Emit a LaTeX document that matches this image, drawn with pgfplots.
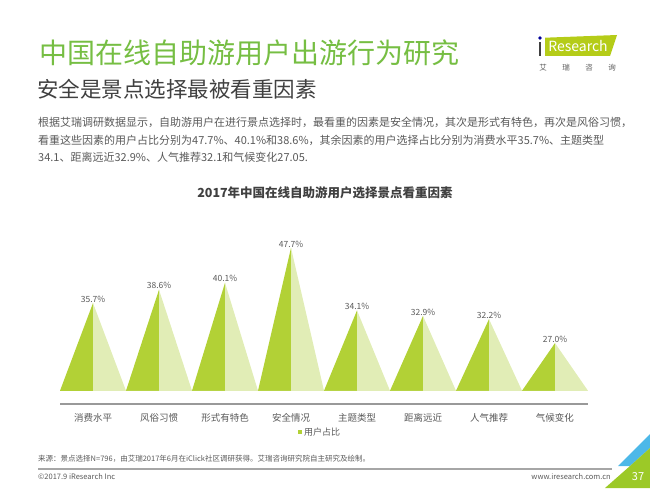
\documentclass[border=0pt]{standalone}
\usepackage{fontspec}
\setmainfont{Noto Sans CJK SC}
\usepackage{pgfplots}
\pgfplotsset{compat=1.18}
\definecolor{titlegreen}{HTML}{76BE43}
\definecolor{darkg}{HTML}{B2D136}
\definecolor{lightg}{HTML}{E1EDB6}
\definecolor{txtgray}{HTML}{595959}
\definecolor{subgray}{HTML}{404040}
\definecolor{linegray}{HTML}{A6A6A6}
\definecolor{axgray}{HTML}{999999}
\definecolor{logogreen}{HTML}{B5CC18}
\definecolor{cornerblue}{HTML}{4DB8E8}
\definecolor{cornergreen}{HTML}{9CC927}
\begin{document}
\begin{tikzpicture}
\path (0pt,0pt) rectangle (650pt,488pt);
% titles
\node[anchor=west, inner sep=0pt, text=titlegreen, font=\fontsize{28}{30}\selectfont] at (39pt,435pt) {中国在线自助游用户出游行为研究};
\node[anchor=west, inner sep=0pt, text=subgray, font=\fontsize{21.5}{24}\selectfont] at (37pt,399pt) {安全是景点选择最被看重因素};
\node[anchor=west, inner sep=0pt, text=txtgray, font=\fontsize{11}{13}\selectfont] at (38pt,366pt) {根据艾瑞调研数据显示，自助游用户在进行景点选择时，最看重的因素是安全情况，其次是形式有特色，再次是风俗习惯，};
\node[anchor=west, inner sep=0pt, text=txtgray, font=\fontsize{11}{13}\selectfont] at (38pt,348pt) {看重这些因素的用户占比分别为47.7\%、40.1\%和38.6\%，其余因素的用户选择占比分别为消费水平35.7\%、主题类型};
\node[anchor=west, inner sep=0pt, text=txtgray, font=\fontsize{11}{13}\selectfont] at (38pt,331pt) {34.1、距离远近32.9\%、人气推荐32.1和气候变化27.05.};
\node[inner sep=0pt, text=subgray, font=\fontsize{12.5}{14}\selectfont\bfseries] at (325pt,295pt) {2017年中国在线自助游用户选择景点看重因素};
% logo
\fill[logogreen] (545pt,450.3pt) -- (617pt,453pt) -- (610pt,432pt) -- (545pt,432pt) -- cycle;
\fill[subgray] (538.6pt,432pt) rectangle (541.4pt,446pt);
\fill[blue!60!black] (540pt,450pt) circle (1.8pt);
\node[inner sep=0pt, text=white, font=\fontsize{14}{16}\selectfont] at (578pt,442pt) {Research};
\foreach \c/\xx in {艾/543,瑞/566,咨/589,询/612}{
  \node[inner sep=0pt, text=txtgray, font=\fontsize{7.5}{8}\selectfont] at (\xx pt,420pt) {\c};
}
% footer
\node[anchor=west, inner sep=0pt, text=txtgray, font=\fontsize{7.5}{9}\selectfont] at (38pt,29pt) {来源：景点选择N=796，由艾瑞2017年6月在iClick社区调研获得。艾瑞咨询研究院自主研究及绘制。};
\draw[linegray, line width=1.5pt] (38pt,19pt) -- (612pt,19pt);
\node[anchor=west, inner sep=0pt, text=txtgray, font=\fontsize{7.5}{9}\selectfont] at (38pt,11pt) {©2017.9 iResearch Inc};
\node[anchor=east, inner sep=0pt, text=txtgray, font=\fontsize{7.5}{9}\selectfont] at (611pt,11pt) {www.iresearch.com.cn};
\fill[cornerblue] (618pt,22pt) -- (650pt,54pt) -- (650pt,40pt) -- (630pt,22pt) -- cycle;
\fill[cornergreen] (605pt,0pt) -- (630pt,22pt) -- (650pt,40pt) -- (650pt,0pt) -- cycle;
\node[inner sep=0pt, text=white, font=\fontsize{11}{12}\selectfont] at (638pt,11pt) {37};
% chart
\begin{axis}[
  at={(60pt,84pt)}, anchor=south west,
  scale only axis, width=528pt, height=166.75pt,
  xmin=-0.5, xmax=7.5, ymin=13.75, ymax=50,
  axis lines=none,
  clip=false,
  /pgf/number format/assume math mode=true,
  legend style={at={(0.492,-0.168)}, anchor=center, draw=none, fill=none, font=\fontsize{9}{10}\selectfont, text=txtgray, inner sep=0pt},
  legend image code/.code={\fill[darkg] (0pt,-2pt) rectangle (4.5pt,2.5pt);},
]
\addplot[draw=axgray, line width=1.6pt, mark=none, forget plot] coordinates {(-0.5,13.75) (7.5,13.75)};
\addplot[fill=darkg, draw=none] coordinates {
 (-0.5,16.63) (0,35.7) (0,16.63)
 (0.5,16.63) (1,38.6) (1,16.63)
 (1.5,16.63) (2,40.1) (2,16.63)
 (2.5,16.63) (3,47.7) (3,16.63)
 (3.5,16.63) (4,34.1) (4,16.63)
 (4.5,16.63) (5,32.9) (5,16.63)
 (5.5,16.63) (6,32.2) (6,16.63)
 (6.5,16.63) (7,27.0) (7,16.63)
 (-0.5,16.63)};
\addlegendentry{用户占比}
\addplot[fill=lightg, draw=none, forget plot] coordinates {
 (0,16.63) (0,35.7) (0.5,16.63)
 (1,16.63) (1,38.6) (1.5,16.63)
 (2,16.63) (2,40.1) (2.5,16.63)
 (3,16.63) (3,47.7) (3.5,16.63)
 (4,16.63) (4,34.1) (4.5,16.63)
 (5,16.63) (5,32.9) (5.5,16.63)
 (6,16.63) (6,32.2) (6.5,16.63)
 (7,16.63) (7,27.0) (7.5,16.63)
 (0,16.63)};
\addplot[draw=none, mark=none, forget plot,
  nodes near coords={\pgfmathprintnumber[fixed,fixed zerofill,precision=1]{\pgfplotspointmeta}\%},
  nodes near coords style={anchor=south, inner sep=0pt, yshift=0.5pt, text=txtgray, font=\fontsize{8.5}{9}\selectfont}]
  coordinates {(0,35.7) (1,38.6) (2,40.1) (3,47.7) (4,34.1) (5,32.9) (6,32.2) (7,27.0)};
\addplot[draw=none, mark=none, forget plot,
  point meta=explicit symbolic,
  nodes near coords={\pgfplotspointmeta},
  nodes near coords style={anchor=center, inner sep=0pt, yshift=-14pt, text=txtgray, font=\fontsize{9.5}{11}\selectfont}]
  coordinates {(0,13.75) [消费水平] (1,13.75) [风俗习惯] (2,13.75) [形式有特色] (3,13.75) [安全情况] (4,13.75) [主题类型] (5,13.75) [距离远近] (6,13.75) [人气推荐] (7,13.75) [气候变化]};
\end{axis}
\end{tikzpicture}
\end{document}
